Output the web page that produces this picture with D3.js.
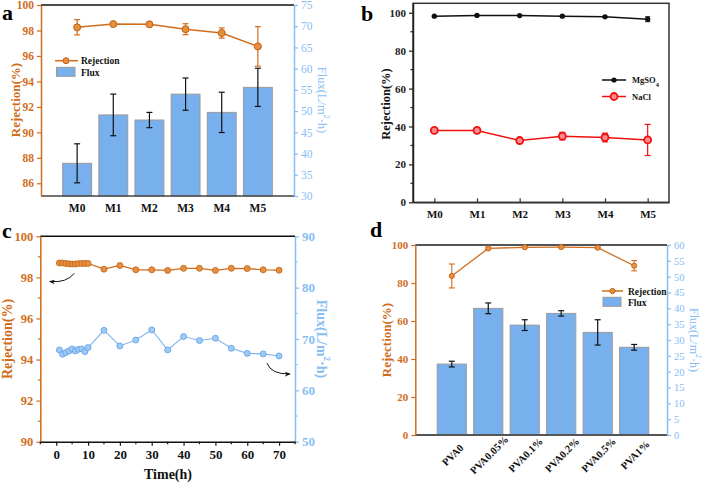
<!DOCTYPE html>
<html><head><meta charset="utf-8">
<script src="https://cdn.jsdelivr.net/npm/d3@7"></script>
<style>
body{margin:0;background:#fff;}
svg{font-family:"Liberation Serif","Times New Roman",serif;font-weight:bold;}
</style></head><body>
<svg id="chart" width="702" height="484"></svg>
<script>
// ---------- data ----------
// panel a
const catsA = ["M0","M1","M2","M3","M4","M5"];
const rejA = [98.25, 98.5, 98.48, 98.1, 97.8, 96.75];
const rejErrA = [0.6, 0.12, 0.1, 0.43, 0.4, 1.55];
const fluxA = [37.7, 49.1, 47.9, 54.0, 49.7, 55.6];
const fluxErrA = [4.6, 4.9, 1.8, 3.8, 4.75, 4.5];
const rejTicksA = [86,88,90,92,94,96,98,100];
const fluxTicksA = [30,35,40,45,50,55,60,65,70,75];
// panel b
const catsB = ["M0","M1","M2","M3","M4","M5"];
const mgso4 = [98.2, 98.6, 98.5, 98.2, 97.9, 96.6];
const mgso4Err = [0.3, 0.2, 0.2, 0.4, 0.3, 1.3];
const nacl = [37.9, 37.9, 32.6, 34.9, 34.2, 32.9];
const naclErr = [1.0, 1.5, 0.7, 2.0, 2.3, 8.2];
const rejTicksB = [0,20,40,60,80,100];
// panel c
const timeC = [1,2,3,4,5,6,7,8,9,10,15,20,25,30,35,40,45,50,55,60,65,70];
const rejC = [98.7,98.7,98.68,98.66,98.65,98.65,98.67,98.68,98.68,98.68,98.4,98.58,98.37,98.37,98.34,98.44,98.44,98.34,98.44,98.43,98.37,98.35];
const fluxC = [67.87,67.03,67.35,67.68,68.07,67.68,68.0,68.07,67.55,68.33,71.7,68.65,69.8,71.77,67.87,70.47,69.7,70.15,68.2,67.2,67.1,66.7];
const timeTicksC = [0,10,20,30,40,50,60,70];
const rejTicksC = [90,92,94,96,98,100];
const fluxTicksC = [50,60,70,80,90];
// panel d
const catsD = ["PVA0","PVA0.05%","PVA0.1%","PVA0.2%","PVA0.5%","PVA1%"];
const rejD = [83.7, 98.2, 98.8, 98.9, 98.6, 89.1];
const rejErrD = [6.3, 0.5, 0.3, 0.3, 0.4, 2.7];
const fluxD = [22.4, 40.0, 34.7, 38.4, 32.4, 27.7];
const fluxErrD = [0.9, 1.7, 1.7, 0.85, 4.0, 0.9];
const rejTicksD = [0,20,40,60,80,100];
const fluxTicksD = [0,5,10,15,20,25,30,35,40,45,50,55,60];

// ---------- styles ----------
const ORANGE = "#d06d1c", BLUE = "#86bdf3", BARFILL = "#78b0ee", BARSTROKE = "#9a9a9a";
const svg = d3.select("#chart");

function yAxis(g, scale, ticks, side, x, color, opts={}) {
  const ax = (side === "left" ? d3.axisLeft(scale) : d3.axisRight(scale))
    .tickValues(ticks).tickSize(4).tickSizeOuter(0).tickPadding(opts.pad || 3)
    .tickFormat(opts.fmt || d3.format("d"));
  const a = g.append("g").attr("transform", `translate(${x},0)`).call(ax);
  a.select(".domain").attr("stroke", color).attr("stroke-width", 1.5);
  a.selectAll(".tick line").attr("stroke", color).attr("stroke-width", 1.2);
  a.selectAll(".tick text").attr("fill", color).attr("font-size", opts.fs || 12)
    .attr("font-family", "Liberation Serif, serif")
    .attr("font-weight", opts.weight || "bold");
  if (opts.minor) {
    a.selectAll(".minor").data(opts.minor).enter().append("line")
      .attr("x1", 0).attr("x2", side === "left" ? -2.5 : 2.5)
      .attr("y1", d => scale(d)).attr("y2", d => scale(d))
      .attr("stroke", color).attr("stroke-width", 1.2);
  }
  return a;
}
function hLine(g, x1, x2, y, color, w=1.5) {
  g.append("line").attr("x1", x1).attr("x2", x2).attr("y1", y).attr("y2", y)
    .attr("stroke", color).attr("stroke-width", w);
}
function errBars(g, xs, ys, es, x, y, color, cap=3, w=1.2) {
  const gg = g.append("g").attr("stroke", color).attr("stroke-width", w);
  xs.forEach((xv, i) => {
    const cx = x(xv), y1 = y(ys[i] - es[i]), y2 = y(ys[i] + es[i]);
    gg.append("line").attr("x1", cx).attr("x2", cx).attr("y1", y1).attr("y2", y2);
    gg.append("line").attr("x1", cx - cap).attr("x2", cx + cap).attr("y1", y1).attr("y2", y1);
    gg.append("line").attr("x1", cx - cap).attr("x2", cx + cap).attr("y1", y2).attr("y2", y2);
  });
}
function vTitle(g, text, x, y, color, rot, fs=13) {
  const t = g.append("text").attr("transform", `translate(${x},${y}) rotate(${rot})`)
    .attr("text-anchor", "middle").attr("dominant-baseline", "central")
    .attr("fill", color).attr("font-size", fs);
  return t;
}
function panelLabel(text, x, y) {
  svg.append("text").attr("x", x).attr("y", y).attr("font-size", 22).attr("fill", "#000").text(text);
}

// ---------- panel a ----------
{
  const g = svg.append("g");
  const L = 41, R = 294, T = 5, B = 196;
  const x = d3.scaleLinear().domain([-1, 6]).range([L, R]);
  const yL = d3.scaleLinear().domain([85, 100]).range([B, T]);
  const yR = d3.scaleLinear().domain([30, 75]).range([B, T]);
  const bw = 0.8 * (x(1) - x(0));
  const idx = catsA.map((d, i) => i);
  g.selectAll("rect.bar").data(fluxA).enter().append("rect")
    .attr("x", (d, i) => x(i) - bw / 2).attr("width", bw)
    .attr("y", d => yR(d)).attr("height", d => B - yR(d))
    .attr("fill", BARFILL).attr("stroke", BARSTROKE).attr("stroke-width", 1);
  errBars(g, idx, fluxA, fluxErrA, x, yR, "#111", 3, 1.2);
  hLine(g, L, R, T, "#111");
  hLine(g, L, R, B, "#444");
  yAxis(g, yL, rejTicksA, "left", L, ORANGE, {fs: 11.5});
  yAxis(g, yR, fluxTicksA, "right", R, BLUE, {weight: "normal", fs: 11.5});
  errBars(g, idx, rejA, rejErrA, x, yL, ORANGE, 3, 1.2);
  g.append("path").datum(rejA).attr("fill", "none").attr("stroke", ORANGE).attr("stroke-width", 1.5)
    .attr("d", d3.line().x((d, i) => x(i)).y(d => yL(d)));
  g.selectAll("circle.r").data(rejA).enter().append("circle")
    .attr("cx", (d, i) => x(i)).attr("cy", d => yL(d)).attr("r", 3.5)
    .attr("fill", "#e6903f").attr("stroke", "#c05f14").attr("stroke-width", 1);
  g.selectAll("text.cat").data(catsA).enter().append("text")
    .attr("x", (d, i) => x(i)).attr("y", 212).attr("text-anchor", "middle")
    .attr("font-size", 11.5).attr("fill", "#111").text(d => d);
  vTitle(g, "", 15, 100, ORANGE, -90).text("Rejection(%)");
  const ft = vTitle(g, "", 322, 100, BLUE, 90, 12.5).attr("font-weight", "normal");
  ft.append("tspan").text("Flux(L/m");
  ft.append("tspan").attr("baseline-shift", "super").attr("font-size", 8).text("2");
  ft.append("tspan").text("·h)");
  // legend
  hLine(g, 55, 78, 60.7, ORANGE, 1.5);
  g.append("circle").attr("cx", 66).attr("cy", 60.7).attr("r", 3).attr("fill", "#e6903f").attr("stroke", "#c05f14");
  g.append("text").attr("x", 81).attr("y", 64).attr("font-size", 9.5).attr("fill", "#111").text("Rejection");
  g.append("rect").attr("x", 56.5).attr("y", 67.3).attr("width", 18.5).attr("height", 9)
    .attr("fill", BARFILL).attr("stroke", BARSTROKE);
  g.append("text").attr("x", 81).attr("y", 76).attr("font-size", 9.5).attr("fill", "#111").text("Flux");
  panelLabel("a", 2, 20);
}

// ---------- panel b ----------
{
  const g = svg.append("g");
  const L = 413, R = 669, T = 3.3, B = 202.3;
  const x = d3.scaleLinear().domain([-0.5, 5.5]).range([L, R]);
  const y = d3.scaleLinear().domain([0, 105]).range([B, T]);
  const idx = catsB.map((d, i) => i);
  g.append("rect").attr("x", L).attr("y", T).attr("width", R - L).attr("height", B - T)
    .attr("fill", "none").attr("stroke", "#333").attr("stroke-width", 1.5);
  yAxis(g, y, rejTicksB, "left", L, "#222", {minor: [10,30,50,70,90], fs: 11});
  const bx = g.append("g").attr("transform", `translate(0,${B})`)
    .call(d3.axisBottom(x).tickValues(idx).tickSize(-4).tickSizeOuter(0).tickPadding(8).tickFormat(i => catsB[i]));
  bx.select(".domain").attr("stroke", "#333").attr("stroke-width", 1.5);
  bx.selectAll(".tick line").attr("stroke", "#333").attr("stroke-width", 1.2);
  bx.selectAll(".tick text").attr("font-size", 11).attr("fill", "#111")
    .attr("font-family", "Liberation Serif, serif").attr("font-weight", "bold");
  // MgSO4
  errBars(g, idx, mgso4, mgso4Err, x, y, "#111", 2.5, 1);
  g.append("path").datum(mgso4).attr("fill", "none").attr("stroke", "#111").attr("stroke-width", 1.5)
    .attr("d", d3.line().x((d, i) => x(i)).y(d => y(d)));
  g.selectAll("circle.m").data(mgso4).enter().append("circle")
    .attr("cx", (d, i) => x(i)).attr("cy", d => y(d)).attr("r", 2.6).attr("fill", "#111");
  // NaCl
  errBars(g, idx, nacl, naclErr, x, y, "#f01010", 3, 1.2);
  g.append("path").datum(nacl).attr("fill", "none").attr("stroke", "#f01010").attr("stroke-width", 1.5)
    .attr("d", d3.line().x((d, i) => x(i)).y(d => y(d)));
  g.selectAll("circle.n").data(nacl).enter().append("circle")
    .attr("cx", (d, i) => x(i)).attr("cy", d => y(d)).attr("r", 3.5)
    .attr("fill", "#ff8a8a").attr("stroke", "#f01010").attr("stroke-width", 1.8);
  vTitle(g, "", 386, 104, "#111", -90, 12.5).text("Rejection(%)");
  // legend
  hLine(g, 602, 626, 80, "#111", 1.5);
  g.append("circle").attr("cx", 614).attr("cy", 80).attr("r", 2.6).attr("fill", "#111");
  const mt = g.append("text").attr("x", 632).attr("y", 83).attr("font-size", 8.5).attr("fill", "#111");
  mt.append("tspan").text("MgSO");
  mt.append("tspan").attr("baseline-shift", "sub").attr("font-size", 6.5).text("4");
  hLine(g, 602, 626, 96.5, "#f01010", 1.5);
  g.append("circle").attr("cx", 614).attr("cy", 96.5).attr("r", 3.5).attr("fill", "#ff8a8a").attr("stroke", "#f01010").attr("stroke-width", 1.8);
  g.append("text").attr("x", 632).attr("y", 99.5).attr("font-size", 8.5).attr("fill", "#111").text("NaCl");
  panelLabel("b", 361, 21);
}

// ---------- panel c ----------
{
  const g = svg.append("g");
  const L = 40.3, R = 295, T = 236.3, B = 441.7;
  const x = d3.scaleLinear().domain([-5, 75]).range([L, R]);
  const yL = d3.scaleLinear().domain([90, 100]).range([B, T]);
  const yR = d3.scaleLinear().domain([50, 90]).range([B, T]);
  hLine(g, L, R, T, "#111");
  yAxis(g, yL, rejTicksC, "left", L, ORANGE, {minor: [91,93,95,97,99], fs: 12.5});
  yAxis(g, yR, fluxTicksC, "right", R, BLUE, {minor: [55,65,75,85], fs: 13});
  const bx = g.append("g").attr("transform", `translate(0,${B})`)
    .call(d3.axisBottom(x).tickValues(timeTicksC).tickSize(4).tickSizeOuter(0).tickPadding(4));
  bx.select(".domain").attr("stroke", "#111").attr("stroke-width", 1.5);
  bx.selectAll(".tick line").attr("stroke", "#111").attr("stroke-width", 1.2);
  bx.selectAll(".tick text").attr("font-size", 13).attr("fill", "#111")
    .attr("font-family", "Liberation Serif, serif").attr("font-weight", "bold");
  [-5,5,15,25,35,45,55,65,75].forEach(v => g.append("line").attr("x1", x(v)).attr("x2", x(v))
    .attr("y1", B).attr("y2", B + 2.5).attr("stroke", "#111").attr("stroke-width", 1.2));
  // rejection
  g.append("path").datum(rejC).attr("fill", "none").attr("stroke", ORANGE).attr("stroke-width", 1.3)
    .attr("d", d3.line().x((d, i) => x(timeC[i])).y(d => yL(d)));
  g.selectAll("circle.r").data(rejC).enter().append("circle")
    .attr("cx", (d, i) => x(timeC[i])).attr("cy", d => yL(d)).attr("r", 3)
    .attr("fill", "#e6903f").attr("stroke", "#c05f14").attr("stroke-width", 0.8);
  // flux
  g.append("path").datum(fluxC).attr("fill", "none").attr("stroke", "#7fb6ef").attr("stroke-width", 1.1)
    .attr("d", d3.line().x((d, i) => x(timeC[i])).y(d => yR(d)));
  g.selectAll("circle.f").data(fluxC).enter().append("circle")
    .attr("cx", (d, i) => x(timeC[i])).attr("cy", d => yR(d)).attr("r", 3)
    .attr("fill", "#9fcaf6").attr("stroke", "#5d9ee6").attr("stroke-width", 0.8);
  // arrows
  const defs = svg.append("defs");
  defs.append("marker").attr("id", "ah").attr("viewBox", "0 0 10 10").attr("refX", 8).attr("refY", 5)
    .attr("markerWidth", 6).attr("markerHeight", 6).attr("orient", "auto")
    .append("path").attr("d", "M0,1L10,5L0,9L3,5Z").attr("fill", "#111");
  g.append("path").attr("d", `M${x(5.7)},${yL(98.2)} Q${x(3.2)},${yL(97.72)} ${x(-1.9)},${yL(97.8)}`)
    .attr("fill", "none").attr("stroke", "#111").attr("stroke-width", 1).attr("marker-end", "url(#ah)");
  g.append("path").attr("d", `M${x(66.2)},${yR(65.3)} Q${x(67.5)},${yR(63.1)} ${x(73.3)},${yR(63.2)}`)
    .attr("fill", "none").attr("stroke", "#111").attr("stroke-width", 1).attr("marker-end", "url(#ah)");
  vTitle(g, "", 7, 339, ORANGE, -90, 14).text("Rejection(%)");
  const ft = vTitle(g, "", 322, 339, BLUE, 90, 14);
  ft.append("tspan").text("Flux(L/m");
  ft.append("tspan").attr("baseline-shift", "super").attr("font-size", 9).text("2");
  ft.append("tspan").text("·h)");
  g.append("text").attr("x", 168).attr("y", 479).attr("text-anchor", "middle")
    .attr("font-size", 14).attr("fill", "#111").text("Time(h)");
  panelLabel("c", 2, 238);
}

// ---------- panel d ----------
{
  const g = svg.append("g");
  const L = 415.3, R = 667, T = 245, B = 435;
  const x = d3.scaleLinear().domain([-1, 5.9]).range([L, R]);
  const yL = d3.scaleLinear().domain([0, 100]).range([B, T]);
  const yR = d3.scaleLinear().domain([0, 60]).range([B, T]);
  const idx = catsD.map((d, i) => i);
  const bw = 0.8 * (x(1) - x(0));
  g.selectAll("rect.bar").data(fluxD).enter().append("rect")
    .attr("x", (d, i) => x(i) - bw / 2).attr("width", bw)
    .attr("y", d => yR(d)).attr("height", d => B - yR(d))
    .attr("fill", BARFILL).attr("stroke", BARSTROKE).attr("stroke-width", 1);
  errBars(g, idx, fluxD, fluxErrD, x, yR, "#111", 3, 1.2);
  hLine(g, L, R, T, "#555", 1.8);
  hLine(g, L, R, B, "#555", 1.8);
  yAxis(g, yL, rejTicksD, "left", L, ORANGE, {fs: 11});
  yAxis(g, yR, fluxTicksD, "right", R, BLUE, {fs: 10.5, weight: "normal"});
  errBars(g, idx, rejD, rejErrD, x, yL, ORANGE, 3, 1.1);
  g.append("path").datum(rejD).attr("fill", "none").attr("stroke", ORANGE).attr("stroke-width", 1.3)
    .attr("d", d3.line().x((d, i) => x(i)).y(d => yL(d)));
  g.selectAll("circle.r").data(rejD).enter().append("circle")
    .attr("cx", (d, i) => x(i)).attr("cy", d => yL(d)).attr("r", 2.6)
    .attr("fill", "#e6903f").attr("stroke", "#c05f14").attr("stroke-width", 0.8);
  g.selectAll("text.cat").data(catsD).enter().append("text")
    .attr("transform", (d, i) => `translate(${x(i) + 1},455) rotate(-45)`)
    .attr("text-anchor", "middle").attr("dominant-baseline", "central")
    .attr("font-size", 10.5).attr("fill", "#111").text(d => d);
  vTitle(g, "", 386.5, 340, ORANGE, -90, 13).text("Rejection(%)");
  const ft = vTitle(g, "", 694, 340, BLUE, 90, 12).attr("font-weight", "normal");
  ft.append("tspan").text("Flux(L/m");
  ft.append("tspan").attr("baseline-shift", "super").attr("font-size", 8).text("2");
  ft.append("tspan").text("·h)");
  // legend
  hLine(g, 602, 623, 291, ORANGE, 1.5);
  g.append("circle").attr("cx", 612.5).attr("cy", 291).attr("r", 2.6).attr("fill", "#e6903f").attr("stroke", "#c05f14");
  g.append("text").attr("x", 628).attr("y", 294.5).attr("font-size", 9.5).attr("fill", "#111").text("Rejection");
  g.append("rect").attr("x", 603).attr("y", 297.3).attr("width", 18).attr("height", 9)
    .attr("fill", BARFILL).attr("stroke", BARSTROKE);
  g.append("text").attr("x", 628).attr("y", 305.5).attr("font-size", 9.5).attr("fill", "#111").text("Flux");
  panelLabel("d", 370, 237);
}
</script>
</body></html>
